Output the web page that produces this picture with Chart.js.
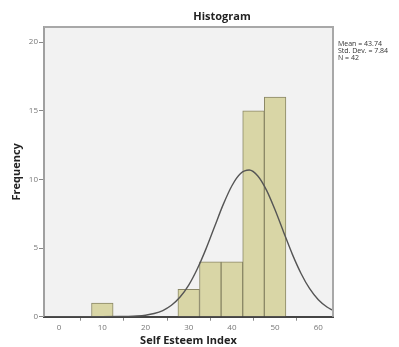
<!DOCTYPE html>
<html>
<head>
<meta charset="utf-8">
<script src="https://cdn.jsdelivr.net/npm/chart.js@4.4.1/dist/chart.umd.min.js"></script>
<style>
  html, body { margin: 0; padding: 0; background: #fff; }
  #wrap { width: 399px; height: 347px; }
</style>
</head>
<body>
<div id="wrap"><canvas id="hist"></canvas></div>
<script>
// histogram bins (centers, width 5) and counts
const binCenters = [10, 30, 35, 40, 45, 50];
const binCounts = [1, 2, 4, 4, 15, 16];

// normal curve
const curveX = [-3.5, 5, 10, 14, 16, 18, 20, 22, 24, 26, 28, 30, 32, 34, 36, 38, 40, 42, 44, 46, 48, 50, 52, 54, 56, 58, 60, 62, 63.4];
const curveY = [0, 0, 0, 0.01, 0.02, 0.05, 0.11, 0.23, 0.45, 0.83, 1.43, 2.3, 3.49, 4.94, 6.57, 8.18, 9.54, 10.43, 10.68, 10.25, 9.22, 7.77, 6.14, 4.54, 3.15, 2.04, 1.24, 0.71, 0.46];

const xTicks = [0, 10, 20, 30, 40, 50, 60];
const yTicks = [0, 5, 10, 15, 20];
const statsLines = ["Mean = 43.74", "Std. Dev. = 7.84", "N = 42"];

const FONT = "'Open Sans', 'Liberation Sans', sans-serif";

// plot frame, background, title and stats box
const framePlugin = {
  id: "frame",
  beforeDraw(chart) {
    const { ctx, chartArea: a } = chart;
    ctx.save();
    ctx.fillStyle = "#f2f2f2";
    ctx.fillRect(a.left, a.top, a.right - a.left, a.bottom - a.top);
    ctx.restore();
  },
  afterDraw(chart) {
    const { ctx, chartArea: a } = chart;
    ctx.save();
    ctx.strokeStyle = "#a8a8a8";
    ctx.lineWidth = 2;
    ctx.beginPath();
    ctx.moveTo(a.left, a.top);
    ctx.lineTo(a.right, a.top);
    ctx.lineTo(a.right, a.bottom);
    ctx.stroke();

    ctx.fillStyle = "#222";
    ctx.font = "bold 11px " + FONT;
    ctx.textAlign = "center";
    ctx.textBaseline = "middle";
    ctx.fillText("Histogram", 222, 17);

    ctx.fillStyle = "#333";
    ctx.font = "7px " + FONT;
    ctx.textAlign = "left";
    statsLines.forEach((t, i) => ctx.fillText(t, a.right + 5, 44 + i * 7));
    ctx.restore();
  }
};

new Chart(document.getElementById("hist"), {
  type: "bar",
  data: {
    datasets: [
      {
        type: "line",
        data: curveX.map((x, i) => ({ x: x, y: curveY[i] })),
        borderColor: "#555",
        borderWidth: 1.4,
        pointRadius: 0,
        fill: false,
        cubicInterpolationMode: "monotone",
        order: 0
      },
      {
        type: "bar",
        data: binCenters.map((x, i) => ({ x: x, y: binCounts[i] })),
        backgroundColor: "#d9d6a6",
        borderColor: "#8a8766",
        borderWidth: 1,
        barPercentage: 1,
        categoryPercentage: 1,
        order: 1
      }
    ]
  },
  options: {
    responsive: true,
    maintainAspectRatio: false,
    animation: false,
    layout: { padding: { left: 8, top: 27, right: 66, bottom: 0 } },
    plugins: {
      legend: { display: false },
      tooltip: { enabled: false }
    },
    scales: {
      x: {
        type: "linear",
        min: -3.5,
        max: 63.4,
        offset: false,
        afterBuildTicks: s => { s.ticks = xTicks.map(v => ({ value: v })); },
        afterFit: s => { s.height = 30.3; },
        grid: { drawOnChartArea: false, tickLength: 4, tickColor: "#888" },
        border: { color: "#444", width: 2 },
        ticks: { color: "#777", font: { size: 8, family: FONT }, padding: 2 },
        title: { display: true, text: "Self Esteem Index", color: "#222", font: { size: 11, weight: "bold", family: FONT }, padding: 0 }
      },
      y: {
        min: 0,
        max: 21.1,
        afterBuildTicks: s => { s.ticks = yTicks.map(v => ({ value: v })); },
        afterFit: s => { s.width = 36; },
        grid: { drawOnChartArea: false, tickLength: 5, tickColor: "#888" },
        border: { color: "#a0a0a0", width: 2 },
        ticks: { color: "#777", font: { size: 8, family: FONT }, padding: 1 },
        title: { display: true, text: "Frequency", color: "#222", font: { size: 11, weight: "bold", family: FONT }, padding: { top: 2 } }
      }
    }
  },
  plugins: [framePlugin]
});
</script>
</body>
</html>
